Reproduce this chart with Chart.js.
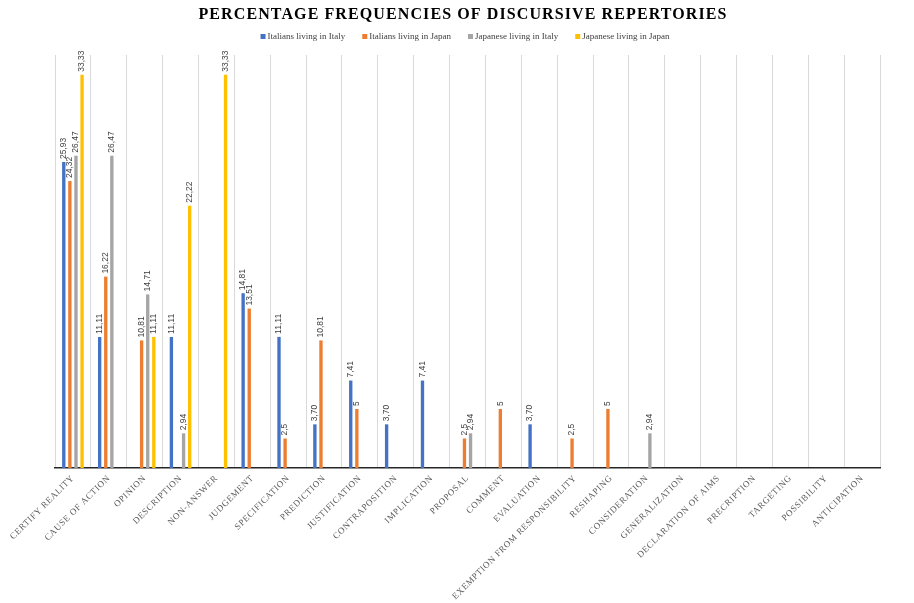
<!DOCTYPE html>
<html><head><meta charset="utf-8">
<script src="https://cdn.jsdelivr.net/npm/chart.js@4.4.1/dist/chart.umd.min.js"></script>
<style>html,body{margin:0;padding:0;background:#fff;} #wrap{width:914px;height:603px;position:relative;}</style>
</head><body><div id="wrap"><canvas id="c" width="914" height="603"></canvas></div>
<script>
const categories = ['CERTIFY REALITY','CAUSE OF ACTION','OPINION','DESCRIPTION','NON-ANSWER','JUDGEMENT','SPECIFICATION','PREDICTION','JUSTIFICATION','CONTRAPOSITION','IMPLICATION','PROPOSAL','COMMENT','EVALUATION','EXEMPTION FROM RESPONSIBILITY','RESHAPING','CONSIDERATION','GENERALIZATION','DECLARATION OF AIMS','PRECRIPTION','TARGETING','POSSIBILITY','ANTICIPATION'];
const italiansInItaly = ['25.93','11.11',null,'11.11',null,'14.81','11.11','3.70','7.41','3.70','7.41',null,null,'3.70',null,null,null,null,null,null,null,null,null];
const italiansInJapan = ['24.32','16.22','10.81',null,null,'13.51','2.5','10.81','5',null,null,'2.5','5',null,'2.5','5',null,null,null,null,null,null,null];
const japaneseInItaly = ['26.47','26.47','14.71','2.94',null,null,null,null,null,null,null,'2.94',null,null,null,null,'2.94',null,null,null,null,null,null];
const japaneseInJapan = ['33.33',null,'11.11','22.22','33.33',null,null,null,null,null,null,null,null,null,null,null,null,null,null,null,null,null,null];
const seriesNames = ['Italians living in Italy','Italians living in Japan','Japanese living in Italy','Japanese living in Japan'];
const seriesColors = ['#4472C4','#ED7D31','#A5A5A5','#FFC000'];
const chartTitle = 'PERCENTAGE FREQUENCIES OF DISCURSIVE REPERTORIES';

const TICK_SPACING = '0.6px';
const deco = {
  id: 'deco',
  beforeLayout(chart){ chart.ctx.letterSpacing = TICK_SPACING; },
  beforeDraw(chart){ chart.ctx.letterSpacing = TICK_SPACING; },
  afterDatasetsDraw(chart){
    const ctx = chart.ctx;
    ctx.save();
    ctx.letterSpacing = '0px';
    ctx.font = '8.5px "Liberation Sans"';
    ctx.fillStyle = '#404040';
    ctx.textAlign = 'left';
    ctx.textBaseline = 'middle';
    chart.data.datasets.forEach((ds, di) => {
      const meta = chart.getDatasetMeta(di);
      meta.data.forEach((bar, i) => {
        const raw = ds.data[i];
        if (raw == null) return;
        ctx.save();
        ctx.translate(bar.x, bar.y - 3);
        ctx.rotate(-Math.PI / 2);
        ctx.fillText(String(raw).replace('.', ','), 0, 0);
        ctx.restore();
      });
    });
    ctx.restore();
  },
  afterDraw(chart){
    const ctx = chart.ctx;
    ctx.save();
    // title
    ctx.letterSpacing = '1.1px';
    ctx.font = 'bold 16px "Liberation Serif"';
    ctx.fillStyle = '#000000';
    ctx.textAlign = 'center';
    ctx.textBaseline = 'alphabetic';
    ctx.fillText(chartTitle, 463, 18.5);
    // legend
    ctx.letterSpacing = '0px';
    ctx.font = '9px "Liberation Serif"';
    ctx.textAlign = 'left';
    ctx.textBaseline = 'middle';
    const box = 5, gapText = 2, gapItem = 17;
    const widths = seriesNames.map(n => box + gapText + ctx.measureText(n).width);
    const total = widths.reduce((a, b) => a + b, 0) + gapItem * (widths.length - 1);
    let x = 465 - total / 2;
    const y = 36.5;
    seriesNames.forEach((n, i) => {
      ctx.fillStyle = seriesColors[i];
      ctx.fillRect(x, y - box / 2, box, box);
      ctx.fillStyle = '#404040';
      ctx.fillText(n, x + box + gapText, y + 0.5);
      x += widths[i] + gapItem;
    });
    ctx.restore();
  }
};

const seriesData = [italiansInItaly, italiansInJapan, japaneseInItaly, japaneseInJapan];
new Chart(document.getElementById('c'), {
  type: 'bar',
  data: {
    labels: categories,
    datasets: seriesData.map((d, i) => ({
      label: seriesNames[i],
      data: d,
      backgroundColor: seriesColors[i],
      borderWidth: 0,
      categoryPercentage: 0.68,
      barPercentage: 0.55
    }))
  },
  options: {
    responsive: false,
    animation: false,
    devicePixelRatio: 1,
    layout: { padding: { left: 55, right: 34, top: 55, bottom: 0 } },
    plugins: { legend: { display: false }, title: { display: false }, tooltip: { enabled: false } },
    scales: {
      x: {
        grid: { color: '#d9d9d9', lineWidth: 1, drawTicks: false, offset: true },
        border: { color: '#262626', width: 1.5 },
        ticks: { color: '#595959', font: { family: '"Liberation Serif"', size: 9 }, minRotation: 45, maxRotation: 45, autoSkip: false, padding: 5 },
        afterFit(s) { s.height = 135; }
      },
      y: { display: false, min: 0, max: 35 }
    }
  },
  plugins: [deco]
});
</script></body></html>
